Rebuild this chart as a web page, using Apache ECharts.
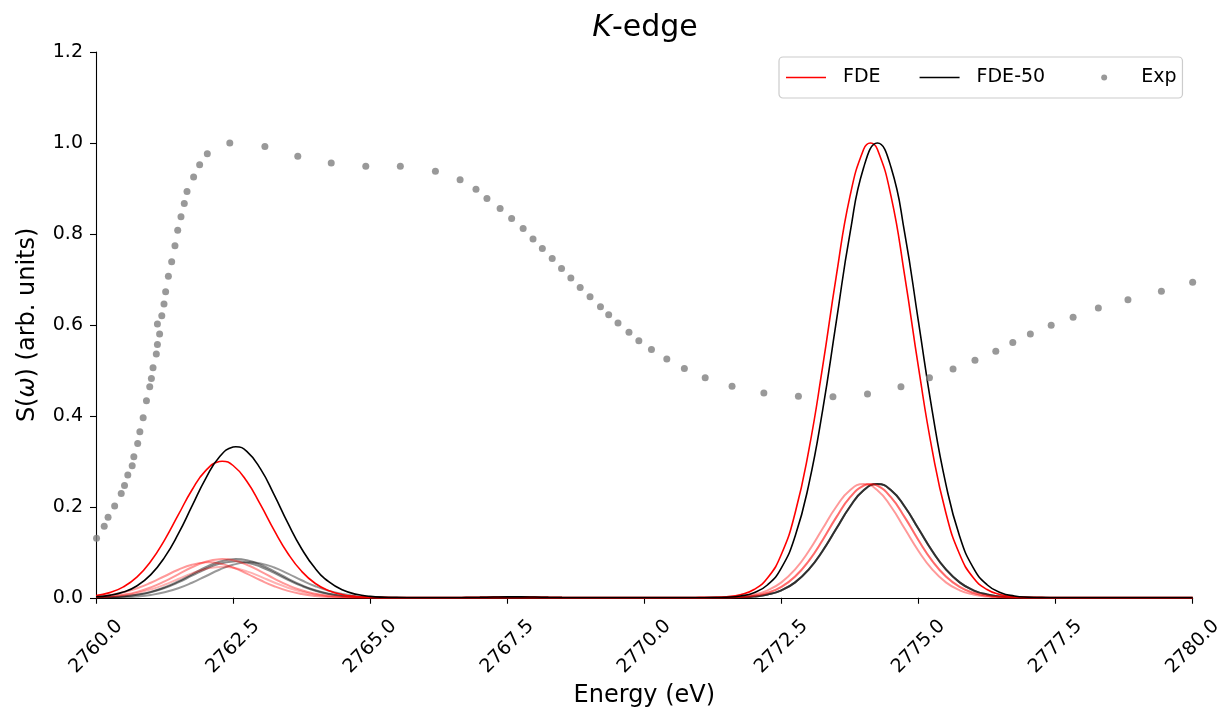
<!DOCTYPE html>
<html>
<head>
<meta charset="utf-8">
<title>K-edge</title>
<script src="https://cdn.jsdelivr.net/npm/echarts@6/dist/echarts.min.js"></script>
<style>
  html, body { margin: 0; padding: 0; background: #ffffff; }
  #chart { width: 1225px; height: 713px; }
</style>
</head>
<body>
<div id="chart"></div>
<script>
const FONT = '"DejaVu Sans", "Liberation Sans", sans-serif';

// Energy grid (eV) on which the broadened spectra are tabulated
const energyGrid = [
  2760.00, 2760.25, 2760.50, 2760.75, 2761.00, 2761.25, 2761.50, 2761.75,
  2762.00, 2762.25, 2762.50, 2762.75, 2763.00, 2763.25, 2763.50, 2763.75,
  2764.00, 2764.25, 2764.50, 2764.75, 2765.00, 2765.25, 2765.50, 2765.75,
  2766.00, 2766.25, 2766.50, 2766.75, 2767.00, 2767.25, 2767.50, 2767.75,
  2768.00, 2768.25, 2768.50, 2768.75, 2769.00, 2769.25, 2769.50, 2769.75,
  2770.00, 2770.25, 2770.50, 2770.75, 2771.00, 2771.25, 2771.50, 2771.75,
  2772.00, 2772.25, 2772.50, 2772.75, 2773.00, 2773.25, 2773.50, 2773.75,
  2774.00, 2774.25, 2774.50, 2774.75, 2775.00, 2775.25, 2775.50, 2775.75,
  2776.00, 2776.25, 2776.50, 2776.75, 2777.00, 2777.25, 2777.50, 2777.75,
  2778.00, 2778.25, 2778.50, 2778.75, 2779.00, 2779.25, 2779.50, 2779.75,
  2780.00
];

// FDE spectrum
const fde = [
  0.0048, 0.0113, 0.0239, 0.0459, 0.0801, 0.1268, 0.1820, 0.2369,
  0.2796, 0.2994, 0.2908, 0.2561, 0.2046, 0.1482, 0.0974, 0.0581,
  0.0314, 0.0154, 0.0068, 0.0028, 0.0010, 0.0003, 0.0001, 0,
  0, 0, 0, 0.0003, 0.0008, 0.0015, 0.0020, 0.0020,
  0.0015, 0.0008, 0.0003, 0, 0, 0, 0, 0,
  0, 0, 0, 0, 0.0002, 0.0006, 0.0022, 0.0067,
  0.0181, 0.0439, 0.0956, 0.1863, 0.3247, 0.5063, 0.7066, 0.8825,
  0.9862, 0.9862, 0.8825, 0.7066, 0.5063, 0.3247, 0.1863, 0.0956,
  0.0439, 0.0181, 0.0067, 0.0022, 0.0006, 0.0002, 0, 0,
  0, 0, 0, 0, 0, 0, 0, 0,
  0
];
const fdePeakEnergy = [2762.30, 2774.125];
const fdePeakValue = [0.300, 1.000];

// FDE-50 spectrum
const fde50 = [
  0.0021, 0.0053, 0.0125, 0.0264, 0.0508, 0.0887, 0.1403, 0.2014,
  0.2621, 0.3095, 0.3313, 0.3218, 0.2834, 0.2264, 0.1640, 0.1078,
  0.0642, 0.0347, 0.0170, 0.0076, 0.0031, 0.0011, 0.0004, 0.0001,
  0, 0, 0, 0.0003, 0.0008, 0.0015, 0.0020, 0.0020,
  0.0015, 0.0008, 0.0003, 0, 0, 0, 0, 0,
  0, 0, 0, 0, 0.0001, 0.0003, 0.0012, 0.0039,
  0.0111, 0.0286, 0.0657, 0.1353, 0.2494, 0.4111, 0.6065, 0.8007,
  0.9460, 1.0000, 0.9460, 0.8007, 0.6065, 0.4111, 0.2494, 0.1353,
  0.0657, 0.0286, 0.0111, 0.0039, 0.0012, 0.0003, 0.0001, 0,
  0, 0, 0, 0, 0, 0, 0, 0,
  0
];
const fde50PeakEnergy = [2762.55];
const fde50PeakValue = [0.332];

// Individual FDE configurations (thin red traces)
const fdeConf1 = [
  0.0014, 0.0032, 0.0068, 0.0130, 0.0227, 0.0359, 0.0516, 0.0671,
  0.0792, 0.0848, 0.0824, 0.0726, 0.0580, 0.0420, 0.0276, 0.0164,
  0.0089, 0.0044, 0.0019, 0.0008, 0.0003, 0.0001, 0, 0,
  0, 0, 0, 0, 0, 0, 0, 0,
  0, 0, 0, 0, 0, 0, 0, 0,
  0, 0, 0, 0, 0, 0.0002, 0.0006, 0.0017,
  0.0045, 0.0110, 0.0239, 0.0466, 0.0812, 0.1266, 0.1767, 0.2206,
  0.2466, 0.2466, 0.2206, 0.1767, 0.1266, 0.0812, 0.0466, 0.0239,
  0.0110, 0.0045, 0.0017, 0.0006, 0.0002, 0, 0, 0,
  0, 0, 0, 0, 0, 0, 0, 0,
  0
];
const fdeConf1PeakEnergy = [2762.30, 2774.125];
const fdeConf1PeakValue = [0.085, 0.250];

const fdeConf2 = [
  0.0029, 0.0062, 0.0119, 0.0208, 0.0330, 0.0473, 0.0616, 0.0727,
  0.0778, 0.0756, 0.0666, 0.0532, 0.0385, 0.0253, 0.0151, 0.0082,
  0.0040, 0.0018, 0.0007, 0.0003, 0.0001, 0, 0, 0,
  0, 0, 0, 0, 0, 0, 0, 0,
  0, 0, 0, 0, 0, 0, 0, 0,
  0, 0, 0, 0, 0.0001, 0.0003, 0.0010, 0.0028,
  0.0072, 0.0164, 0.0338, 0.0624, 0.1028, 0.1516, 0.2002, 0.2365,
  0.2500, 0.2365, 0.2002, 0.1516, 0.1028, 0.0624, 0.0338, 0.0164,
  0.0072, 0.0028, 0.0010, 0.0003, 0.0001, 0, 0, 0,
  0, 0, 0, 0, 0, 0, 0, 0,
  0
];
const fdeConf2PeakEnergy = [2762.05];
const fdeConf2PeakValue = [0.078];

const fdeConf3 = [
  0.0011, 0.0026, 0.0054, 0.0104, 0.0182, 0.0287, 0.0412, 0.0537,
  0.0634, 0.0679, 0.0659, 0.0581, 0.0464, 0.0336, 0.0221, 0.0132,
  0.0071, 0.0035, 0.0016, 0.0006, 0.0002, 0.0001, 0, 0,
  0, 0, 0, 0, 0, 0, 0, 0,
  0, 0, 0, 0, 0, 0, 0, 0,
  0, 0, 0, 0, 0, 0.0002, 0.0006, 0.0017,
  0.0045, 0.0110, 0.0239, 0.0466, 0.0812, 0.1266, 0.1767, 0.2206,
  0.2466, 0.2466, 0.2206, 0.1767, 0.1266, 0.0812, 0.0466, 0.0239,
  0.0110, 0.0045, 0.0017, 0.0006, 0.0002, 0, 0, 0,
  0, 0, 0, 0, 0, 0, 0, 0,
  0
];
const fdeConf3PeakEnergy = [2762.30, 2774.125];
const fdeConf3PeakValue = [0.068, 0.250];

// Individual FDE-50 configurations (thin dark traces)
const fde50Conf1 = [
  0.0005, 0.0014, 0.0032, 0.0068, 0.0130, 0.0227, 0.0359, 0.0516,
  0.0671, 0.0792, 0.0848, 0.0824, 0.0726, 0.0580, 0.0420, 0.0276,
  0.0164, 0.0089, 0.0044, 0.0019, 0.0008, 0.0003, 0.0001, 0,
  0, 0, 0, 0, 0, 0, 0, 0,
  0, 0, 0, 0, 0, 0, 0, 0,
  0, 0, 0, 0, 0, 0.0001, 0.0003, 0.0010,
  0.0028, 0.0072, 0.0164, 0.0338, 0.0624, 0.1028, 0.1516, 0.2002,
  0.2365, 0.2500, 0.2365, 0.2002, 0.1516, 0.1028, 0.0624, 0.0338,
  0.0164, 0.0072, 0.0028, 0.0010, 0.0003, 0.0001, 0, 0,
  0, 0, 0, 0, 0, 0, 0, 0,
  0
];
const fde50Conf1PeakEnergy = [2762.55];
const fde50Conf1PeakValue = [0.085];

const fde50Conf2 = [
  0.0005, 0.0013, 0.0030, 0.0064, 0.0122, 0.0214, 0.0338, 0.0485,
  0.0632, 0.0746, 0.0798, 0.0775, 0.0683, 0.0546, 0.0395, 0.0260,
  0.0155, 0.0084, 0.0041, 0.0018, 0.0007, 0.0003, 0.0001, 0,
  0, 0, 0, 0, 0, 0, 0, 0,
  0, 0, 0, 0, 0, 0, 0, 0,
  0, 0, 0, 0, 0, 0.0001, 0.0003, 0.0010,
  0.0028, 0.0072, 0.0164, 0.0338, 0.0624, 0.1028, 0.1516, 0.2002,
  0.2365, 0.2500, 0.2365, 0.2002, 0.1516, 0.1028, 0.0624, 0.0338,
  0.0164, 0.0072, 0.0028, 0.0010, 0.0003, 0.0001, 0, 0,
  0, 0, 0, 0, 0, 0, 0, 0,
  0
];
const fde50Conf2PeakEnergy = [2762.55];
const fde50Conf2PeakValue = [0.080];

const fde50Conf3 = [
  0.0002, 0.0005, 0.0012, 0.0029, 0.0062, 0.0119, 0.0208, 0.0330,
  0.0473, 0.0616, 0.0727, 0.0778, 0.0756, 0.0666, 0.0532, 0.0385,
  0.0253, 0.0151, 0.0082, 0.0040, 0.0018, 0.0007, 0.0003, 0.0001,
  0, 0, 0, 0, 0, 0, 0, 0,
  0, 0, 0, 0, 0, 0, 0, 0,
  0, 0, 0, 0, 0, 0.0001, 0.0003, 0.0010,
  0.0028, 0.0072, 0.0164, 0.0338, 0.0624, 0.1028, 0.1516, 0.2002,
  0.2365, 0.2500, 0.2365, 0.2002, 0.1516, 0.1028, 0.0624, 0.0338,
  0.0164, 0.0072, 0.0028, 0.0010, 0.0003, 0.0001, 0, 0,
  0, 0, 0, 0, 0, 0, 0, 0,
  0
];
const fde50Conf3PeakEnergy = [2762.80];
const fde50Conf3PeakValue = [0.078];

// Experimental spectrum
const expEnergy = [
  2760.01, 2760.15, 2760.22, 2760.34, 2760.46, 2760.52, 2760.58, 2760.66, 2760.69, 2760.76,
  2760.80, 2760.86, 2760.92, 2760.98, 2761.01, 2761.04, 2761.10, 2761.12, 2761.16, 2761.12,
  2761.20, 2761.24, 2761.27, 2761.32, 2761.38, 2761.44, 2761.49, 2761.55, 2761.61, 2761.66,
  2761.78, 2761.89, 2762.03, 2762.44, 2763.08, 2763.68, 2764.29, 2764.92, 2765.55, 2766.19,
  2766.64, 2766.93, 2767.13, 2767.37, 2767.58, 2767.79, 2767.97, 2768.14, 2768.32, 2768.49,
  2768.66, 2768.83, 2769.01, 2769.20, 2769.35, 2769.52, 2769.72, 2769.90, 2770.13, 2770.41,
  2770.73, 2771.11, 2771.60, 2772.18, 2772.81, 2773.44, 2774.07, 2774.68, 2775.20, 2775.63,
  2776.03, 2776.41, 2776.72, 2777.04, 2777.42, 2777.82, 2778.28, 2778.82, 2779.43, 2780.00
];
const expSignal = [
  0.131, 0.157, 0.177, 0.202, 0.229, 0.247, 0.270, 0.290, 0.310, 0.339,
  0.365, 0.396, 0.433, 0.464, 0.482, 0.506, 0.536, 0.557, 0.580, 0.602,
  0.620, 0.646, 0.673, 0.707, 0.739, 0.774, 0.808, 0.838, 0.867, 0.893,
  0.925, 0.952, 0.976, 1.000, 0.992, 0.971, 0.956, 0.949, 0.949, 0.938,
  0.919, 0.898, 0.878, 0.856, 0.834, 0.812, 0.789, 0.768, 0.746, 0.724,
  0.703, 0.682, 0.662, 0.640, 0.622, 0.604, 0.584, 0.565, 0.546, 0.525,
  0.504, 0.484, 0.465, 0.450, 0.443, 0.442, 0.448, 0.464, 0.484, 0.503,
  0.522, 0.542, 0.561, 0.580, 0.599, 0.617, 0.637, 0.655, 0.674, 0.694
];

const xTicks = { min: 2760, max: 2780, step: 2.5 };
const yTicks = { min: 0, max: 1.2, step: 0.2 };

// Grid samples plus the band maxima, sorted by energy
function spectrumPoints(values, peakEnergy, peakValue) {
  const pts = energyGrid.map((e, i) => [e, values[i]]);
  peakEnergy.forEach((e, k) => pts.push([e, peakValue[k]]));
  return pts.sort((a, b) => a[0] - b[0]);
}

function spectrumLine(name, points, color, width, z) {
  return {
    name: name,
    type: 'line',
    data: points,
    symbol: 'none',
    showSymbol: false,
    smooth: 0.5,
    color: color,
    lineStyle: { color: color, width: width },
    emphasis: { disabled: true },
    z: z
  };
}

const RED_FAINT = 'rgba(255,0,0,0.40)';
const DARK_FAINT = 'rgba(0,0,0,0.45)';
const LEGEND_LINE = 'path://M0,0 M40,14 M0,6.2 L40,6.2 L40,7.8 L0,7.8 Z';
const LEGEND_DOT = 'path://M0,0 M40,14 M17,7 a3,3 0 1,0 6,0 a3,3 0 1,0 -6,0 Z';

const chart = echarts.init(document.getElementById('chart'), null, { renderer: 'canvas' });

chart.setOption({
  animation: false,
  backgroundColor: '#ffffff',
  title: {
    text: '{k|K}-edge',
    left: 645,
    textAlign: 'center',
    top: 13,
    padding: 0,
    textStyle: {
      fontFamily: FONT,
      fontSize: 30,
      fontWeight: 'normal',
      color: '#000000',
      rich: {
        k: { fontFamily: FONT, fontSize: 30, fontStyle: 'italic', color: '#000000' }
      }
    }
  },
  legend: {
    left: 779,
    top: 57,
    orient: 'horizontal',
    padding: [11, 6, 11, 7],
    itemWidth: 40,
    itemHeight: 14,
    itemGap: 39,
    borderColor: '#cccccc',
    borderWidth: 1.2,
    borderRadius: 4,
    backgroundColor: 'rgba(255,255,255,0.8)',
    itemStyle: { borderWidth: 0 },
    textStyle: {
      fontFamily: FONT,
      fontSize: 19,
      color: '#000000',
      padding: [0, 0, 0, 12]
    },
    data: [
      { name: 'FDE', icon: LEGEND_LINE },
      { name: 'FDE-50', icon: LEGEND_LINE },
      { name: 'Exp', icon: LEGEND_DOT }
    ]
  },
  grid: { left: 96, right: 30, top: 52, bottom: 115, containLabel: false },
  xAxis: {
    type: 'value',
    min: xTicks.min,
    max: xTicks.max,
    interval: xTicks.step,
    name: 'Energy (eV)',
    nameLocation: 'middle',
    nameGap: 82,
    nameTextStyle: { fontFamily: FONT, fontSize: 24, color: '#000000' },
    axisLine: { onZero: false, lineStyle: { color: '#000000', width: 1.1 } },
    axisTick: { length: 6, lineStyle: { color: '#000000', width: 1.1 } },
    splitLine: { show: false },
    axisLabel: {
      rotate: 45,
      align: 'center',
      verticalAlign: 'middle',
      margin: 49,
      fontFamily: FONT,
      fontSize: 19,
      color: '#000000',
      formatter: v => v.toFixed(1)
    }
  },
  yAxis: {
    type: 'value',
    min: yTicks.min,
    max: yTicks.max,
    interval: yTicks.step,
    name: 'S({w|ω}) (arb. units)',
    nameLocation: 'middle',
    nameGap: 56,
    nameTextStyle: {
      fontFamily: FONT,
      fontSize: 24,
      color: '#000000',
      rich: { w: { fontFamily: FONT, fontSize: 24, fontStyle: 'italic', color: '#000000' } }
    },
    axisLine: { show: true, onZero: false, lineStyle: { color: '#000000', width: 1.1 } },
    axisTick: { show: true, length: 6, lineStyle: { color: '#000000', width: 1.1 } },
    splitLine: { show: false },
    axisLabel: {
      margin: 13,
      fontFamily: FONT,
      fontSize: 19,
      color: '#000000',
      formatter: v => v.toFixed(1)
    }
  },
  series: [
    spectrumLine('FDE-50 conf. 1', spectrumPoints(fde50Conf1, fde50Conf1PeakEnergy, fde50Conf1PeakValue), DARK_FAINT, 2, 2),
    spectrumLine('FDE-50 conf. 2', spectrumPoints(fde50Conf2, fde50Conf2PeakEnergy, fde50Conf2PeakValue), DARK_FAINT, 2, 2),
    spectrumLine('FDE-50 conf. 3', spectrumPoints(fde50Conf3, fde50Conf3PeakEnergy, fde50Conf3PeakValue), 'rgba(0,0,0,0.40)', 2, 2),
    spectrumLine('FDE conf. 1', spectrumPoints(fdeConf1, fdeConf1PeakEnergy, fdeConf1PeakValue), RED_FAINT, 2, 2),
    spectrumLine('FDE conf. 2', spectrumPoints(fdeConf2, fdeConf2PeakEnergy, fdeConf2PeakValue), RED_FAINT, 2, 2),
    spectrumLine('FDE conf. 3', spectrumPoints(fdeConf3, fdeConf3PeakEnergy, fdeConf3PeakValue), 'rgba(255,0,0,0.30)', 2, 2),
    spectrumLine('FDE', spectrumPoints(fde, fdePeakEnergy, fdePeakValue), '#ff0000', 1.6, 3),
    spectrumLine('FDE-50', spectrumPoints(fde50, fde50PeakEnergy, fde50PeakValue), '#000000', 1.6, 3),
    {
      name: 'Exp',
      type: 'scatter',
      data: expEnergy.map((e, i) => [e, expSignal[i]]),
      symbol: 'circle',
      symbolSize: 7,
      color: '#808080',
      itemStyle: { color: '#808080' },
      emphasis: { disabled: true },
      z: 4
    }
  ]
});
</script>
</body>
</html>
